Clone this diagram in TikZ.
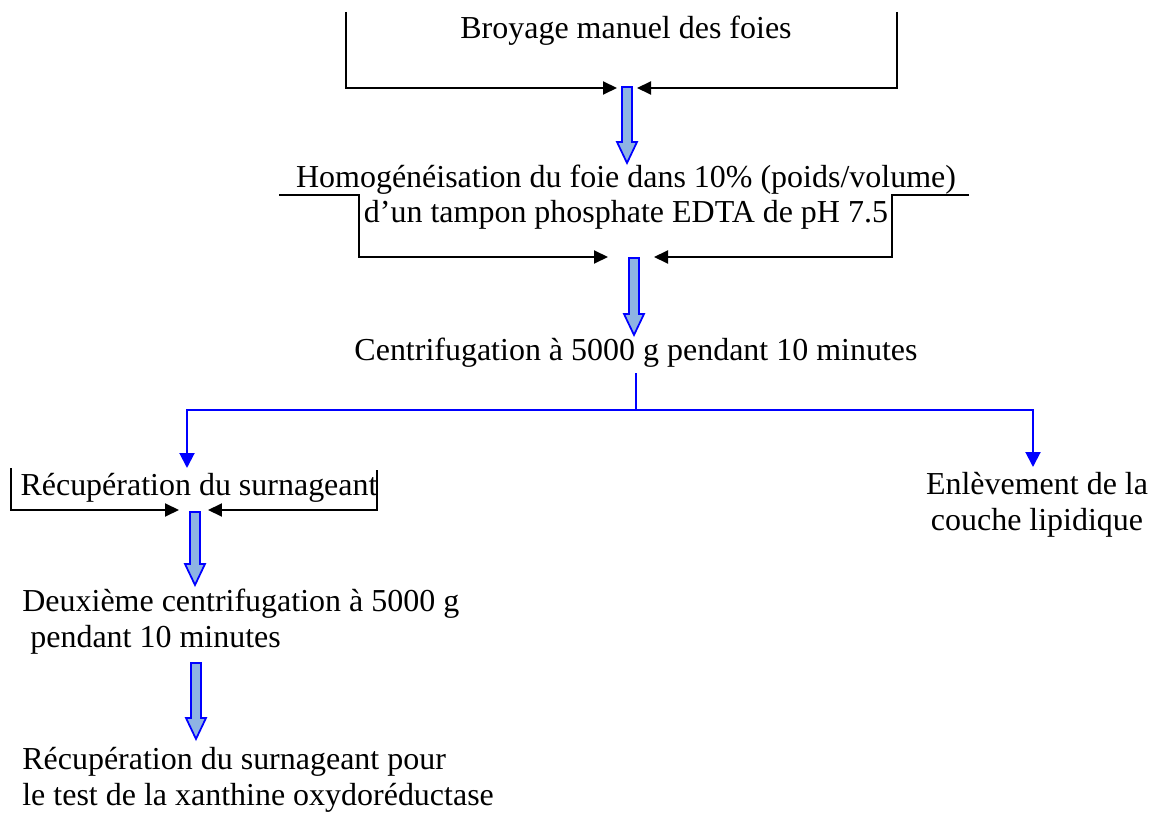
\documentclass[tikz,border=0pt]{standalone}
\usepackage{fontspec}
\setmainfont{Liberation Serif}
\usetikzlibrary{arrows.meta,calc}
\definecolor{bleuclair}{HTML}{8EB4E3}
% grosse fleche bleue verticale, de #1 (haut) a #2 (pointe)
\newcommand{\flechebleue}[2]{%
  \draw[bloc] ($(#1)+(-5,0)$) -- ($(#1)+(5,0)$) -- ($(#2)+(5,-21)$) -- ($(#2)+(10,-21)$)
    -- (#2) -- ($(#2)+(-10,-21)$) -- ($(#2)+(-5,-21)$) -- cycle;}

\begin{document}
\begin{tikzpicture}[x=0.02cm,y=-0.02cm,
  etape/.style={inner sep=0pt,font=\fontsize{18.2}{20}\selectfont},
  amene/.style={black,line width=0.04cm,-{Triangle[length=0.28cm,width=0.26cm]}},
  branche/.style={blue,line width=0.04cm},
  bloc/.style={draw=blue,fill=bleuclair,line width=0.035cm}]
\useasboundingbox (0,0) rectangle (1160,814);

% etapes (base = ligne du bas)
\node[etape,anchor=base] (broyage) at (626,39) {Broyage manuel des foies};
\node[etape,anchor=base,align=center] (homog) at (626,223) {Homogénéisation du foie dans 10\% (poids/volume)\\d'un tampon phosphate EDTA de pH 7.5};
\node[etape,anchor=base] (centrif) at (636,360) {Centrifugation à 5000 g pendant 10 minutes};
\node[etape,anchor=base] (recup) at (199,495) {Récupération du surnageant};
\node[etape,anchor=base,align=center] (enlev) at (1037,530) {Enlèvement de la\\couche lipidique};
\node[etape,anchor=base west,align=left] (deux) at (22,647) {Deuxième centrifugation à 5000 g\\\hspace*{0.25em}pendant 10 minutes};
\node[etape,anchor=base west,align=left] (final) at (22,805) {Récupération du surnageant pour\\le test de la xanthine oxydoréductase};

% broyage
\coordinate (b1g) at (346,12);
\coordinate (b1d) at (897,12);
\coordinate (b1x) at (617,88);
\coordinate (b1y) at (637,88);
\draw[amene] (b1g) |- (b1x);
\draw[amene] (b1d) |- (b1y);
\coordinate (f1a) at (627,87);
\coordinate (f1b) at (627,163);
\flechebleue{f1a}{f1b}

% homogeneisation
\coordinate (b2g) at (279,195);
\coordinate (b2d) at (969,195);
\coordinate (b2x) at (608,257);
\coordinate (b2y) at (654,257);
\draw[amene] (b2g) -- ++(80,0) |- (b2x);
\draw[amene] (b2d) -- ++(-77,0) |- (b2y);
\coordinate (f2a) at (634,258);
\coordinate (f2b) at (634,335);
\flechebleue{f2a}{f2b}

% centrifugation
\coordinate (split) at (636,410);
\coordinate (g1) at (187,468);
\coordinate (d1) at (1033,467);
\draw[branche] (centrif.south) ++(0,6) -- (split);
\draw[branche,-{Triangle[length=0.3cm,width=0.3cm]}] (split) -| (g1);
\draw[branche,-{Triangle[length=0.3cm,width=0.3cm]}] (split) -| (d1);

% surnageant
\coordinate (b3g) at (11,468);
\coordinate (b3d) at (377,470);
\coordinate (b3x) at (179,510);
\coordinate (b3y) at (208,510);
\draw[amene] (b3g) |- (b3x);
\draw[amene] (b3d) |- (b3y);
\coordinate (f3a) at (195,512);
\coordinate (f3b) at (195,585);
\flechebleue{f3a}{f3b}

\coordinate (f4a) at (196,663);
\coordinate (f4b) at (196,739);
\flechebleue{f4a}{f4b}

\end{tikzpicture}
\end{document}
